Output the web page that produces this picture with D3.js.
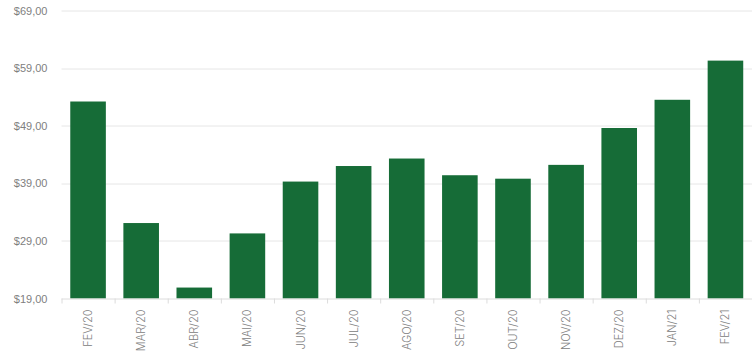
<!DOCTYPE html>
<html>
<head>
<meta charset="utf-8">
<script src="https://cdn.jsdelivr.net/npm/d3@7"></script>
<style>
  body { margin: 0; background: #fff; }
  svg { display: block; font-family: 'Inter', 'Open Sans', sans-serif; }
  .grid line { stroke: #e6e6e6; }
  .axis text { fill: #808080; font-size: 11px; font-weight: 300; }
  .axis path, .axis line { stroke: #dcdcdc; }
</style>
</head>
<body>
<svg id="chart" width="752" height="363"></svg>
<script>
const months = ['FEV/20', 'MAR/20', 'ABR/20', 'MAI/20', 'JUN/20', 'JUL/20', 'AGO/20',
  'SET/20', 'OUT/20', 'NOV/20', 'DEZ/20', 'JAN/21', 'FEV/21'];
const prices = [53.2, 32.1, 20.9, 30.3, 39.3, 42.0, 43.3, 40.4, 39.8, 42.2, 48.6, 53.5, 60.3];
const yTicks = [19, 29, 39, 49, 59, 69];

const svg = d3.select('#chart');
const margin = { left: 61.5, right: 0, top: 10.5, bottom: 64.5 };
const width = +svg.attr('width') - margin.left - margin.right;
const height = +svg.attr('height') - margin.top - margin.bottom;

const g = svg.append('g')
  .attr('transform', `translate(${margin.left}, ${margin.top})`);

const x = d3.scaleBand()
  .domain(months)
  .range([0, width])
  .paddingInner(0.33)
  .paddingOuter(0.165);

const y = d3.scaleLinear()
  .domain([19, 69])
  .range([height, 0]);

const fmt = v => '$' + v.toFixed(2).replace('.', ',');

// horizontal grid lines
g.append('g')
  .classed('grid', true)
  .selectAll('line')
  .data(yTicks.slice(1))
  .join('line')
    .attr('x1', 0)
    .attr('x2', width)
    .attr('y1', d => Math.round(y(d)) + 0.5)
    .attr('y2', d => Math.round(y(d)) + 0.5);

// y axis labels only
const yAxis = g.append('g')
  .classed('axis', true)
  .call(d3.axisLeft(y).tickValues(yTicks).tickFormat(fmt).tickSize(0).tickPadding(14));
yAxis.select('.domain').remove();

// bars
g.selectAll('rect.bar')
  .data(prices)
  .join('rect')
    .classed('bar', true)
    .attr('x', (d, i) => x(months[i]))
    .attr('y', d => y(d))
    .attr('width', x.bandwidth())
    .attr('height', d => height - y(d))
    .style('fill', '#166c37');

// x axis: ticks at band edges, rotated labels
const edges = d3.range(months.length + 1).map(i => i * x.step());
const xAxisG = g.append('g')
  .classed('axis', true)
  .attr('transform', `translate(0, ${height})`);

xAxisG.append('line')
  .attr('x1', 0).attr('x2', width)
  .attr('y1', 0.5).attr('y2', 0.5);

xAxisG.selectAll('line.tick')
  .data(edges)
  .join('line')
    .classed('tick', true)
    .attr('x1', d => d + 0.5).attr('x2', d => d + 0.5)
    .attr('y1', 0).attr('y2', 5);

xAxisG.selectAll('text')
  .data(months)
  .join('text')
    .attr('transform', d => `translate(${x(d) + x.bandwidth() / 2 + 4}, 11) rotate(-90)`)
    .attr('text-anchor', 'end')
    .text(d => d);
</script>
</body>
</html>
